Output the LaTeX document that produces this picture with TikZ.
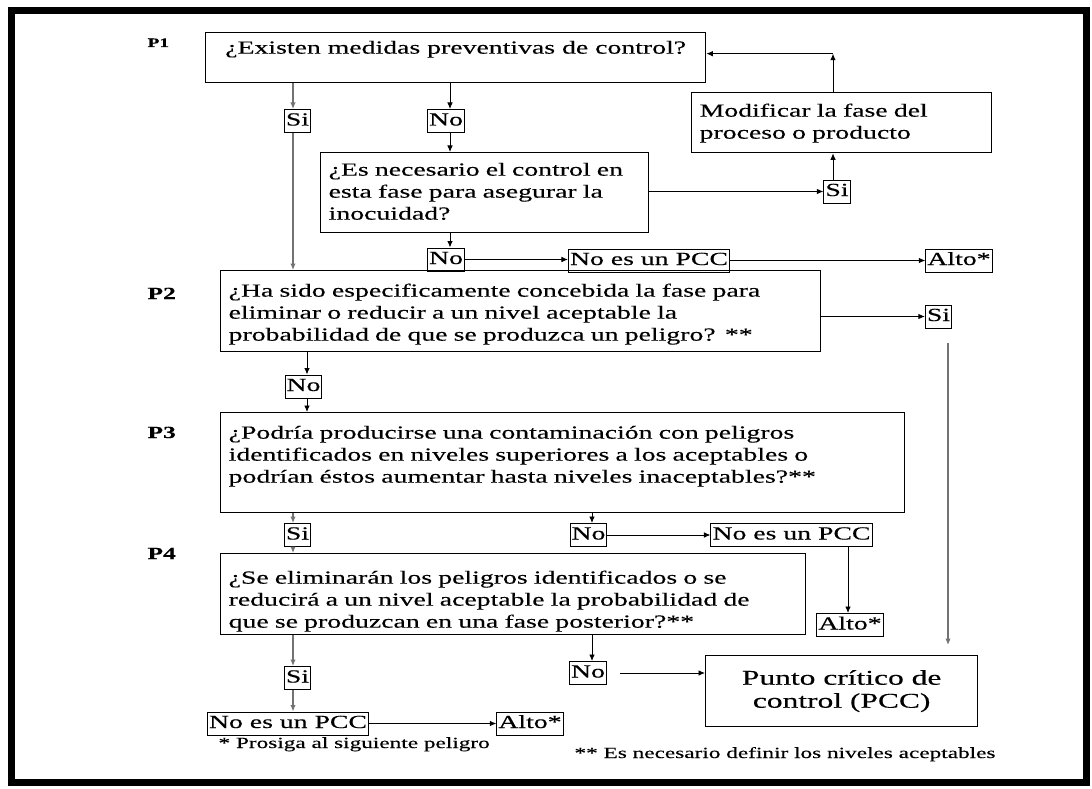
\documentclass[tikz,border=0pt]{standalone}
\usepackage{fontspec}
\setmainfont{Liberation Serif}[FakeStretch=1.5,FakeBold=0.3]
\usetikzlibrary{arrows.meta}
\newcommand\boxfont{\fontsize{18.5}{22}\selectfont}
\newcommand\pccfont{\fontsize{21}{23}\selectfont}
\newcommand\notefont{\fontsize{15.5}{18}\selectfont}
\newcommand\stepfont{\bfseries\fontsize{17}{20}\selectfont}
\tikzset{
  question/.style={
    draw, line width=1.3pt,
    anchor=north west, align=left,
    inner xsep=8pt, inner ysep=6pt,
    font=\boxfont
  },
  answer/.style={
    draw, line width=1pt,
    inner xsep=1.5pt, inner ysep=3pt,
    text height=13pt, text depth=4pt,
    font=\boxfont
  },
  step label/.style={
    anchor=base west, font=\stepfont
  },
  footnote/.style={
    anchor=base west, font=\notefont
  },
  flow/.style={
    -{Latex[length=6.5pt,width=5.5pt]}, line width=0.9pt
  },
  faint flow/.style={
    flow, draw=black!55, line width=1.2pt
  },
}

\begin{document}
\begin{tikzpicture}[x=1pt,y=-1pt]
  \useasboundingbox (0,0) rectangle (1092,789);
  \draw[line width=7pt] (11.5,10.5) rectangle (1086.5,782);

  \coordinate (colA) at (293,0);
  \coordinate (colN) at (450,0);
  \coordinate (colB) at (833,0);
  \coordinate (colC) at (948,0);
  \coordinate (colD) at (307,0);
  \coordinate (colE) at (592,0);
  \coordinate (colF) at (848,0);

  \node[step label, font=\bfseries\fontsize{13}{15}\selectfont] (p1lbl) at (144,47) {P1};
  \node[step label] (p2lbl) at (144,299) {P2};
  \node[step label] (p3lbl) at (144,438) {P3};
  \node[step label] (p4lbl) at (144,559) {P4};

  \node[question, minimum width=500pt, text height=15pt, text depth=23pt] (q1) at (205,32)
    {¿Existen medidas preventivas de control?};
  \node[question, text width=312pt, text height=17pt, text depth=51pt] (q2) at (320,152)
    {¿Es necesario el control en\\esta fase para asegurar la\\inocuidad?};
  \node[question, text width=284pt, text height=18pt, text depth=30pt] (modif) at (691,92)
    {Modificar la fase del\\proceso o producto};
  \node[question, text width=584pt, text height=20pt, text depth=49pt] (p2) at (220,270)
    {¿Ha sido especificamente concebida la fase para\\eliminar o reducir a un nivel aceptable la\\probabilidad de que se produzca un peligro? **};
  \node[question, text width=668pt, text height=20pt, text depth=68pt] (p3) at (220,412)
    {¿Podría producirse una contaminación con peligros\\identificados en niveles superiores a los aceptables o\\podrían éstos aumentar hasta niveles inaceptables?**};
  \node[question, text width=569pt, text height=24pt, text depth=45pt] (p4) at (220,553)
    {¿Se eliminarán los peligros identificados o se\\reducirá a un nivel aceptable la probabilidad de\\que se produzcan en una fase posterior?**};
  \node[question, align=center, font=\pccfont, minimum width=272pt, minimum height=71pt] (punto) at (705,655)
    {Punto crítico de\\control (PCC)};

  \node[answer] (siA) at (297.5,121) {Si};
  \node[answer] (noA) at (446,121) {No};
  \node[answer] (siB) at (837,191.5) {Si};
  \node[answer] (noB) at (446,259.5) {No};
  \node[answer] (ncpA) at (649,260.5) {No es un PCC};
  \node[answer] (altoA) at (959,260.5) {Alto*};
  \node[answer] (siC) at (938.5,316.5) {Si};
  \node[answer] (noC) at (303.5,386.5) {No};
  \node[answer] (siD) at (297.5,535) {Si};
  \node[answer] (noD) at (588.5,535) {No};
  \node[answer] (ncpB) at (791.5,535) {No es un PCC};
  \node[answer] (altoB) at (850,625) {Alto*};
  \node[answer] (siE) at (297.5,678) {Si};
  \node[answer] (noE) at (588,673) {No};
  \node[answer] (ncpC) at (288,723.5) {No es un PCC};
  \node[answer] (altoC) at (530,723.5) {Alto*};

  \node[footnote] (fn1) at (215,748) {* Prosiga al siguiente peligro};
  \node[footnote] (fn2) at (571,758) {** Es necesario definir los niveles aceptables};

  \draw[faint flow] (q1.south -| colA) -- (siA.north -| colA);
  \draw[faint flow] (siA.south -| colA) -- (p2.north -| colA);
  \draw[flow] (q1.south -| colN) -- (noA.north -| colN);
  \draw[flow] (noA.south -| colN) -- (q2.north -| colN);
  \draw[flow] (q2.east |- siB) -- (siB.west);
  \draw[flow] (siB.north -| colB) -- (modif.south -| colB);
  \draw[flow] (modif.north -| colB) -- (colB |- q1.base east);
  \draw[flow] (colB |- q1.base east) -- (q1.base east);
  \draw[flow] (q2.south -| colN) -- (noB.north -| colN);
  \draw[flow] (noB.east) -- (noB.east -| ncpA.west);
  \draw[flow] (ncpA.east) -- (altoA.west);

  \draw[flow] (p2.east |- siC) -- (siC.west);
  \draw[faint flow, shorten <=14pt, shorten >=10pt] (siC.south -| colC) -- (punto.north -| colC);
  \draw[flow] (p2.south -| colD) -- (noC.north -| colD);
  \draw[flow] (noC.south -| colD) -- (p3.north -| colD);

  \draw[faint flow] (p3.south -| colA) -- (siD.north -| colA);
  \draw[faint flow] (siD.south -| colA) -- (p4.north -| colA);
  \draw[flow] (p3.south -| colE) -- (noD.north -| colE);
  \draw[flow] (noD.east) -- (noD.east -| ncpB.west);
  \draw[flow] (ncpB.south -| colF) -- (altoB.north -| colF);

  \draw[faint flow] (p4.south -| colA) -- (siE.north -| colA);
  \draw[faint flow] (siE.south -| colA) -- (ncpC.north -| colA);
  \draw[flow] (ncpC.east) -- (ncpC.east -| altoC.west);
  \draw[flow] (p4.south -| colE) -- (noE.north -| colE);
  \draw[flow, shorten <=13pt] (noE.east) -- (noE.east -| punto.west);
\end{tikzpicture}
\end{document}
